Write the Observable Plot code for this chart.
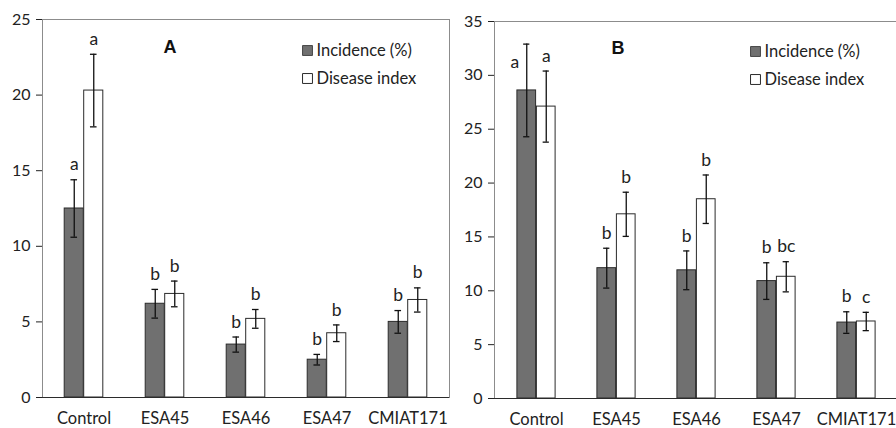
<!DOCTYPE html>
<html><head><meta charset="utf-8">
<script src="https://cdn.jsdelivr.net/npm/d3@7"></script>
<script src="https://cdn.jsdelivr.net/npm/@observablehq/plot@0.6"></script>
<style>
html,body{margin:0;padding:0;background:#fff;}
#wrap{display:flex;width:896px;height:428px;overflow:hidden;}
#wrap > *{flex:none;display:block;}
</style></head><body><div id="wrap"></div>
<script>
// ---- data ----
const categories = ["Control", "ESA45", "ESA46", "ESA47", "CMIAT171"];
const series = ["Incidence (%)", "Disease index"];

const incidenceA    = [12.5, 6.2, 3.5, 2.5, 5.0];
const incidenceErrA = [1.9, 0.95, 0.5, 0.35, 0.75];
const diseaseA      = [20.3, 6.85, 5.2, 4.25, 6.45];
const diseaseErrA   = [2.4, 0.85, 0.62, 0.55, 0.8];
const incLettersA   = ["a", "b", "b", "b", "b"];
const disLettersA   = ["a", "b", "b", "b", "b"];
const yTicksA = [0, 5, 10, 15, 20, 25];

const incidenceB    = [28.6, 12.1, 11.9, 10.9, 7.05];
const incidenceErrB = [4.3, 1.85, 1.8, 1.7, 1.0];
const diseaseB      = [27.1, 17.1, 18.5, 11.3, 7.15];
const diseaseErrB   = [3.3, 2.05, 2.25, 1.4, 0.85];
const incLettersB   = ["a", "b", "b", "b", "b"];
const disLettersB   = ["a", "b", "b", "bc", "c"];
const yTicksB = [0, 5, 10, 15, 20, 25, 30, 35];

// ---- helpers ----
function rows(inc, incErr, dis, disErr, incL, disL) {
  const out = [];
  categories.forEach((c, i) => {
    out.push({cat: c, s: series[0], v: inc[i], e: incErr[i], l: incL[i]});
    out.push({cat: c, s: series[1], v: dis[i], e: disErr[i], l: disL[i]});
  });
  return out;
}

const FONT = "Lato, 'Open Sans', sans-serif";
const DARK = "#707070";
const EDGE = "#2b2b2b";
const BAR = 19.5;
const LBL = 17.5;

function panel({data, ymax, ticks, letter, width, ml, mr, mt, mb, legendDx, legendDy, letterDx, letterDy}) {
  const bw = (width - ml - mr) / categories.length;
  const side = (s) => (s === series[0] ? -1 : 1);
  const inc = data.filter(d => d.s === series[0]);
  const dis = data.filter(d => d.s === series[1]);
  const high = (d) => d.v + d.e > ymax * 0.92;
  const normal = data.filter(d => !high(d));
  const tall = data.filter(d => high(d));
  const capInset = (bw - 7) / 2;
  const marks = [
    Plot.frame({stroke: "#8c8c8c"}),
    Plot.barY(inc, {x: "cat", y: "v", fill: DARK, stroke: EDGE, strokeWidth: 1,
      insetLeft: bw / 2 - BAR, insetRight: bw / 2}),
    Plot.barY(dis, {x: "cat", y: "v", fill: "white", stroke: EDGE, strokeWidth: 1,
      insetLeft: bw / 2, insetRight: bw / 2 - BAR}),
    Plot.ruleY([0], {stroke: EDGE, strokeWidth: 1.2}),
  ];
  for (const grp of [inc, dis]) {
    const dx = side(grp[0].s) * BAR / 2;
    marks.push(
      Plot.ruleX(grp, {x: "cat", y1: d => d.v - d.e, y2: d => d.v + d.e, dx, stroke: "#111", strokeWidth: 1.3}),
      Plot.tickY(grp, {x: "cat", y: d => d.v + d.e, dx, insetLeft: capInset, insetRight: capInset, stroke: "#111", strokeWidth: 1.3}),
      Plot.tickY(grp, {x: "cat", y: d => d.v - d.e, dx, insetLeft: capInset, insetRight: capInset, stroke: "#111", strokeWidth: 1.3})
    );
  }
  // significance letters
  for (const grp of [normal.filter(d => d.s === series[0]), normal.filter(d => d.s === series[1])]) {
    if (!grp.length) continue;
    marks.push(Plot.text(grp, {x: "cat", y: d => d.v + d.e, text: "l", dx: side(grp[0].s) * BAR / 2, dy: -15,
      lineAnchor: "middle", fontSize: LBL, fill: "#222"}));
  }
  for (const d of tall) {
    marks.push(Plot.text([d], {x: "cat", y: d => d.v + d.e * 0.6, text: "l",
      dx: side(d.s) * (BAR / 2 + 12), lineAnchor: "middle", fontSize: LBL, fill: "#222"}));
  }
  // panel letter
  marks.push(Plot.text([letter], {text: d => d, frameAnchor: "top-left", dx: letterDx, dy: letterDy,
    fontWeight: "bold", fontSize: 18, fontFamily: "'Liberation Sans', Arial, sans-serif", fill: "#111", lineAnchor: "middle"}));
  // legend
  marks.push(
    Plot.dot([0], {frameAnchor: "top-left", dx: legendDx, dy: legendDy, symbol: "square", r: 5.6, fill: DARK, stroke: EDGE, strokeWidth: 0.8}),
    Plot.dot([0], {frameAnchor: "top-left", dx: legendDx, dy: legendDy + 28, symbol: "square", r: 5.6, fill: "white", stroke: EDGE, strokeWidth: 1}),
    Plot.text([series[0]], {text: d => d, frameAnchor: "top-left", dx: legendDx + 9, dy: legendDy, textAnchor: "start", lineAnchor: "middle", fontSize: 16.5, fill: "#222"}),
    Plot.text([series[1]], {text: d => d, frameAnchor: "top-left", dx: legendDx + 9, dy: legendDy + 28, textAnchor: "start", lineAnchor: "middle", fontSize: 16.5, fill: "#222"})
  );
  return Plot.plot({
    width, height: 428,
    marginLeft: ml, marginRight: mr, marginTop: mt, marginBottom: mb,
    style: {fontFamily: FONT, fontSize: "16px", color: "#222", background: "white", overflow: "visible"},
    x: {domain: categories, padding: 0, label: null},
    y: {domain: [0, ymax], label: null},
    marks: [
      ...marks,
      Plot.axisY({ticks, tickSize: 6, tickPadding: 6, fontSize: 16, label: null}),
      Plot.ruleX([0], {frameAnchor: "left", stroke: EDGE, strokeWidth: 1.2, y1: 0, y2: ymax}),
      Plot.axisX({tickSize: 0, tickPadding: 15, fontSize: 16.5, label: null})
    ]
  });
}

const wrap = document.getElementById("wrap");
wrap.appendChild(panel({
  data: rows(incidenceA, incidenceErrA, diseaseA, diseaseErrA, incLettersA, disLettersA),
  ymax: 25, ticks: yTicksA, letter: "A",
  width: 452, ml: 42, mr: 3, mt: 19, mb: 31,
  legendDx: 265, legendDy: 31, letterDx: 121, letterDy: 28
}));
wrap.appendChild(panel({
  data: rows(incidenceB, incidenceErrB, diseaseB, diseaseErrB, incLettersB, disLettersB),
  ymax: 35, ticks: yTicksB, letter: "B",
  width: 446, ml: 42, mr: 0, mt: 21, mb: 30,
  legendDx: 261, legendDy: 30, letterDx: 117, letterDy: 27
}));
</script>
</body></html>
